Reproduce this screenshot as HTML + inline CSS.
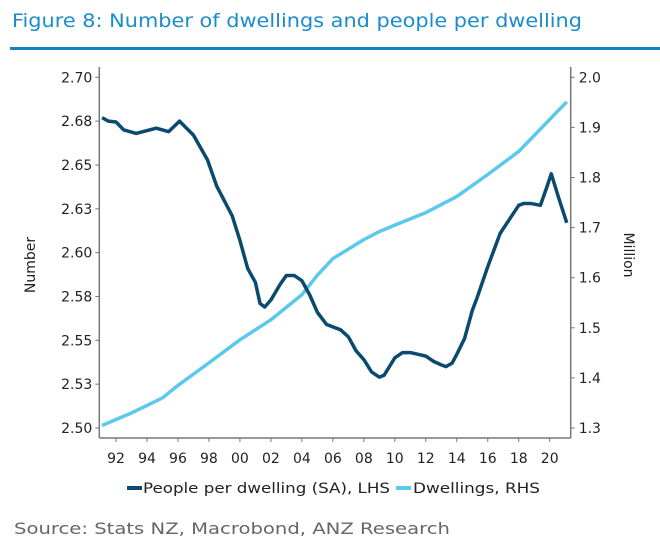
<!DOCTYPE html>
<html><head><meta charset="utf-8"><style>
body{margin:0;background:#fff;width:660px;height:546px;overflow:hidden;font-family:"DejaVu Sans",sans-serif}
svg text{font-family:"DejaVu Sans","Liberation Sans",sans-serif}
</style></head><body>
<svg width="660" height="546">
<text x="12" y="27" font-size="19" fill="#1a8ccc" textLength="570" lengthAdjust="spacingAndGlyphs">Figure 8: Number of dwellings and people per dwelling</text>
<rect x="10" y="47" width="650" height="3" fill="#1a7fc1"/>
<g id="axes"></g>
<g id="marks"></g>
<text transform="translate(35,265) rotate(-90)" text-anchor="middle" font-size="14" fill="#222">Number</text>
<text transform="translate(624,255) rotate(90)" text-anchor="middle" font-size="14" fill="#222">Million</text>
<g>
<rect x="127" y="486" width="15" height="4" fill="#0b4a6f"/>
<text x="143" y="493" font-size="14" fill="#222" textLength="247" lengthAdjust="spacingAndGlyphs">People per dwelling (SA), LHS</text>
<rect x="396" y="486" width="15" height="4" fill="#5bc8ec"/>
<text x="413" y="493" font-size="14" fill="#222" textLength="127" lengthAdjust="spacingAndGlyphs">Dwellings, RHS</text>
</g>
<text x="14" y="534" font-size="16" fill="#666" textLength="436" lengthAdjust="spacingAndGlyphs">Source: Stats NZ, Macrobond, ANZ Research</text>
</svg>
<script>
const xTickLabels=["92","94","96","98","00","02","04","06","08","10","12","14","16","18","20"];
const xTickYears=[1992,1994,1996,1998,2000,2002,2004,2006,2008,2010,2012,2014,2016,2018,2020];
const leftTicks=[2.70,2.675,2.65,2.625,2.60,2.575,2.55,2.525,2.50];
const leftTickLabels=["2.70","2.68","2.65","2.63","2.60","2.58","2.55","2.53","2.50"];
const rightTicks=[2.0,1.9,1.8,1.7,1.6,1.5,1.4,1.3];
const rightTickLabels=["2.0","1.9","1.8","1.7","1.6","1.5","1.4","1.3"];
const pplYears=[1991.1,1991.5,1992,1992.5,1993.3,1994.6,1995.4,1996.1,1997,1997.9,1998.5,1999.5,2000,2000.5,2001,2001.3,2001.6,2002,2002.6,2003,2003.5,2004,2004.5,2005,2005.6,2006.5,2007,2007.5,2008,2008.5,2009,2009.3,2010,2010.5,2011,2011.5,2012,2012.5,2013,2013.3,2013.7,2014,2014.5,2015,2015.3,2016,2016.8,2018,2018.3,2018.8,2019.4,2019.8,2020.1,2020.55,2021.1];
const pplValues=[2.677,2.675,2.6745,2.67,2.668,2.671,2.669,2.675,2.667,2.653,2.638,2.621,2.607,2.591,2.583,2.571,2.569,2.573,2.582,2.587,2.587,2.584,2.576,2.566,2.559,2.556,2.552,2.544,2.539,2.532,2.529,2.530,2.540,2.543,2.543,2.542,2.541,2.538,2.536,2.535,2.537,2.542,2.551,2.567,2.574,2.592,2.611,2.627,2.628,2.628,2.627,2.637,2.645,2.632,2.617];
const dwYears=[1991.1,1993,1995,1996,1998,2000,2002,2004,2005,2006,2008,2009,2010,2012,2014,2016,2018,2019,2020,2021.1];
const dwValues=[1.305,1.33,1.36,1.385,1.43,1.476,1.516,1.566,1.605,1.638,1.676,1.692,1.705,1.73,1.762,1.806,1.852,1.884,1.916,1.951];
const NS="http://www.w3.org/2000/svg";
const X0=99.3,X1=570.7,YB=438,YT=67;
function xS(y){return 116+(y-1992)*15.49;}
function yL(v){return 428-(v-2.5)/0.2*350.7;}
function yR(v){return 428-(v-1.3)/0.7*350.7;}
const axes=document.getElementById('axes'),marks=document.getElementById('marks');
function mk(t,a,p){const e=document.createElementNS(NS,t);for(const k in a)e.setAttribute(k,a[k]);p.appendChild(e);return e;}
let e;
e=mk('line',{x1:X0,y1:YT,x2:X0,y2:YB,stroke:'#777','stroke-width':1.5},axes);


e=mk('line',{x1:X1,y1:YT,x2:X1,y2:YB,stroke:'#777','stroke-width':1.5},axes);


e=mk('line',{x1:X0,y1:YB,x2:X1,y2:YB,stroke:'#777','stroke-width':1.5},axes);


xTickYears.forEach((yr,i)=>{const x=xS(yr);
 e=mk('line',{x1:x,y1:YB,x2:x,y2:YB+4,stroke:'#777'},axes);
 
 
 e=mk('text',{x:x,y:YB+25,'text-anchor':'middle','font-size':14,fill:'#222'},axes);e.textContent=xTickLabels[i];
 
 });
leftTicks.forEach((v,i)=>{const y=yL(v);
 e=mk('line',{x1:X0-4,y1:y,x2:X0,y2:y,stroke:'#777'},axes);
 
 
 e=mk('text',{x:X0-7,y:y+5,'text-anchor':'end','font-size':14,fill:'#222'},axes);e.textContent=leftTickLabels[i];
 
 });
rightTicks.forEach((v,i)=>{const y=yR(v);
 e=mk('line',{x1:X1,y1:y,x2:X1+4,y2:y,stroke:'#777'},axes);
 
 
 e=mk('text',{x:X1+8,y:y+5,'font-size':14,fill:'#222'},axes);e.textContent=rightTickLabels[i];
 
 });
e=mk('polyline',{points:dwYears.map((yr,i)=>xS(yr)+','+yR(dwValues[i])).join(' '),fill:'none',stroke:'#5bc8ec','stroke-width':3.5,'stroke-linejoin':'round'},marks);


e=mk('polyline',{points:pplYears.map((yr,i)=>xS(yr)+','+yL(pplValues[i])).join(' '),fill:'none',stroke:'#0b4a6f','stroke-width':3.5,'stroke-linejoin':'round'},marks);


</script>
</body></html>
